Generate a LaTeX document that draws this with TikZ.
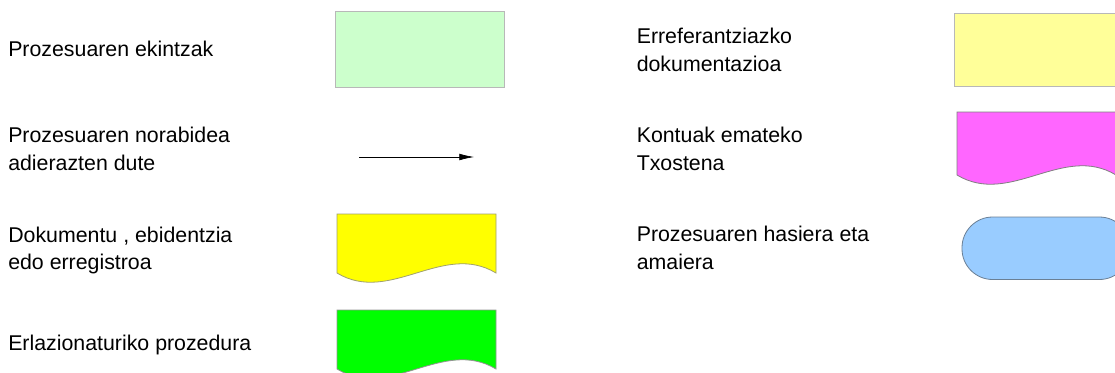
\documentclass[tikz,border=0pt]{standalone}
\usepackage{fontspec}
\setmainfont{Liberation Sans}
\usetikzlibrary{arrows.meta}
\definecolor{actfill}{HTML}{CCFFCC}
\definecolor{docyellow}{HTML}{FFFF00}
\definecolor{docgreen}{HTML}{00FF00}
\definecolor{reffill}{HTML}{FFFF99}
\definecolor{repfill}{HTML}{FF66FF}
\definecolor{termfill}{HTML}{99CCFF}
\definecolor{lightborder}{HTML}{B8B8B8}
\definecolor{docborder}{HTML}{A0A070}
\definecolor{termborder}{HTML}{6A7F95}
\tikzset{
  lbl/.style={anchor=base west, inner sep=0pt, font=\fontsize{16pt}{20.8pt}\selectfont},
  boxshape/.style={draw=lightborder, line width=0.6pt},
  docshape/.style={draw=docborder, line width=0.6pt},
}
\newcommand{\twolines}[2]{\begin{tabular}[t]{@{}l@{}}#1\\#2\end{tabular}}
\begin{document}
\begin{tikzpicture}[x=0.75pt,y=-0.75pt]
\useasboundingbox (0,0) rectangle (1115,372);
\clip (0,0) rectangle (1115,372);
% left column labels
\node[lbl] (t1) at (8,56.7) {Prozesuaren ekintzak};
\node[lbl] (t2) at (8,142.3) {\twolines{Prozesuaren norabidea}{adierazten dute}};
\node[lbl] (t3) at (8,242) {\twolines{Dokumentu , ebidentzia}{edo erregistroa}};
\node[lbl] (t4) at (8,350.7) {Erlazionaturiko prozedura};
% right column labels
\node[lbl] (t5) at (636.5,43.3) {\twolines{Erreferantziazko}{dokumentazioa}};
\node[lbl] (t6) at (636.5,142.7) {\twolines{Kontuak emateko}{Txostena}};
\node[lbl] (t7) at (636.5,241.7) {\twolines{Prozesuaren hasiera eta}{amaiera}};
% process action box
\draw[boxshape, fill=actfill] (335,11) rectangle (504,87);
% direction arrow
\coordinate (a1) at (359,157);
\coordinate (a2) at (474,157);
\draw[line width=0.5pt, -{Latex[length=11pt, width=5pt]}] (a1) -- (a2);
% document shape (yellow)
\draw[docshape, fill=docyellow] (337,214) -- (496,214) -- (496,273)
  .. controls (443,241) and (390,305) .. (337,273) -- cycle;
% related procedure (green)
\draw[draw=lightborder!80!black, line width=0.6pt, fill=docgreen] (337,310) -- (496,310) -- (496,369)
  .. controls (443,337) and (390,401) .. (337,369) -- cycle;
% reference documentation
\draw[boxshape, fill=reffill] (954,13) rectangle (1123,86);
% report
\draw[draw=gray, line width=0.6pt, fill=repfill] (957,112) -- (1116,112) -- (1116,175)
  .. controls (1063,143) and (1010,207) .. (957,175) -- cycle;
% start / end terminator
\draw[draw=termborder, line width=0.6pt, fill=termfill, rounded corners=23pt] (962,217) rectangle (1130,279.5);
\end{tikzpicture}
\end{document}
